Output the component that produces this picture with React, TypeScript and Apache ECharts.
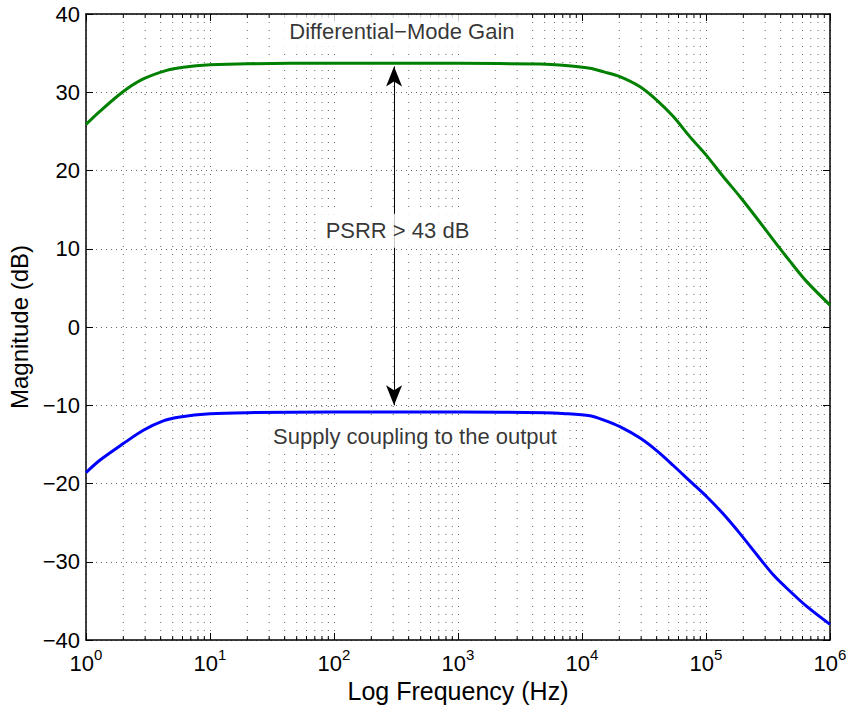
import React, { useEffect, useRef } from "react";
import * as echarts from "echarts";

// ---- data ----
const GAIN_FREQ = [1, 1.3, 2.0, 2.9, 4.47, 6.1, 10, 20, 100, 1000, 4600, 7000, 11600, 15000, 20200, 29400, 40000, 54500, 74300, 100000, 138000, 188000, 257000, 350000, 478000, 649000, 1000000];
const GAIN_DB = [25.9, 27.6, 30.1, 31.7, 32.8, 33.2, 33.5, 33.65, 33.7, 33.7, 33.6, 33.45, 33.06, 32.6, 32.0, 30.7, 29.0, 26.9, 24.3, 22.0, 19.2, 16.65, 13.9, 11.1, 8.35, 5.8, 2.8];

const SUPPLY_FREQ = [1, 1.3, 2.0, 2.9, 4.2, 5.73, 10, 19.8, 100, 1000, 5000, 7000, 11600, 15000, 20200, 29400, 40000, 54500, 74300, 100000, 138000, 188000, 257000, 350000, 478000, 649000, 1000000];
const SUPPLY_DB = [-18.6, -17.0, -14.9, -13.2, -12.0, -11.5, -11.1, -10.95, -10.85, -10.85, -10.95, -11.05, -11.35, -11.9, -12.74, -14.2, -15.8, -17.7, -19.7, -21.6, -23.9, -26.4, -29.1, -31.7, -33.8, -35.7, -38.0];

const DECADES = [1, 10, 100, 1000, 10000, 100000];
const MINOR_MULTS = [2, 3, 4, 5, 6, 7, 8, 9];

const X_MIN = 1;
const X_MAX = 1000000;
const Y_MIN = -40;
const Y_MAX = 40;
const Y_STEP = 10;

const ARROW_FREQ = 305;
const ARROW_TOP_DB = 33.3;
const ARROW_BOTTOM_DB = -10.0;

const LABEL_TEXTS = ["Differential\u2212Mode Gain", "PSRR > 43 dB", "Supply coupling to the output"];
const LABEL_FREQ = [353, 325, 450];
const LABEL_DB = [37.7, 12.3, -14.05];

const X_TITLE = "Log Frequency (Hz)";
const Y_TITLE = "Magnitude (dB)";

const FONT = '"Liberation Sans", Arial, Helvetica, sans-serif';

export default function App() {
  const ref = useRef<HTMLDivElement>(null);

  useEffect(() => {
    if (!ref.current) return;
    const chart = echarts.init(ref.current, null, { renderer: "svg" });

    const minorFreqs: number[][] = [];
    DECADES.forEach((d) => MINOR_MULTS.forEach((m) => minorFreqs.push([d * m, 0])));

    const gainData = GAIN_FREQ.map((f, i) => [f, GAIN_DB[i]]);
    const supplyData = SUPPLY_FREQ.map((f, i) => [f, SUPPLY_DB[i]]);
    const labelData = LABEL_TEXTS.map((t, i) => [LABEL_FREQ[i], LABEL_DB[i], t]);

    const axisLine = { show: true, onZero: false, lineStyle: { color: "#000", width: 1.5 } };
    const axisTick = { show: true, inside: true, length: 7, lineStyle: { color: "#000", width: 1 } };

    const option: any = {
      animation: false,
      backgroundColor: "#fff",
      grid: { left: 86, right: 16, top: 14, bottom: 66, containLabel: false, outerBoundsMode: "none" },
      xAxis: [
        {
          type: "log",
          logBase: 10,
          min: X_MIN,
          max: X_MAX,
          position: "bottom",
          axisLine,
          axisTick,
          axisLabel: {
            margin: 12,
            formatter: (v: number) => `{b|10}{s|${Math.round(Math.log10(v))}}`,
            rich: {
              b: { fontSize: 22, fontFamily: FONT, color: "#000", lineHeight: 22, verticalAlign: "bottom" },
              s: { fontSize: 15, fontFamily: FONT, color: "#000", lineHeight: 15, padding: [0, 0, 12, 0], verticalAlign: "bottom" },
            },
          },
          splitLine: { show: true, lineStyle: { color: "#666", width: 1, type: [1, 7] } },
          name: X_TITLE,
          nameLocation: "middle",
          nameGap: 36,
          nameTextStyle: { fontSize: 25, fontFamily: FONT, color: "#000" },
        },
        {
          type: "log",
          logBase: 10,
          min: X_MIN,
          max: X_MAX,
          position: "top",
          axisLine,
          axisTick,
          axisLabel: { show: false },
          splitLine: { show: false },
        },
      ],
      yAxis: [
        {
          type: "value",
          min: Y_MIN,
          max: Y_MAX,
          interval: Y_STEP,
          position: "left",
          axisLine,
          axisTick,
          axisLabel: {
            margin: 6,
            fontSize: 22,
            fontFamily: FONT,
            color: "#000",
            formatter: (v: number) => (v < 0 ? "\u2212" + Math.abs(v) : String(v)),
          },
          splitLine: { show: true, lineStyle: { color: "#666", width: 1, type: [1, 4] } },
          name: Y_TITLE,
          nameLocation: "middle",
          nameGap: 45,
          nameRotate: 90,
          nameTextStyle: { fontSize: 24, fontFamily: FONT, color: "#000" },
        },
        {
          type: "value",
          min: Y_MIN,
          max: Y_MAX,
          interval: Y_STEP,
          position: "right",
          axisLine,
          axisTick,
          axisLabel: { show: false },
          splitLine: { show: false },
        },
      ],
      series: [
        {
          type: "custom",
          name: "minorGrid",
          silent: true,
          clip: false,
          z: 1,
          xAxisIndex: 0,
          yAxisIndex: 0,
          encode: { x: 0, y: 1 },
          data: minorFreqs,
          renderItem: (params: any, api: any) => {
            const f = api.value(0);
            const top = api.coord([f, Y_MAX]);
            const bot = api.coord([f, Y_MIN]);
            return {
              type: "group",
              children: [
                {
                  type: "line",
                  shape: { x1: top[0], y1: top[1], x2: bot[0], y2: bot[1] },
                  style: { stroke: "#666", lineWidth: 1, lineDash: [1, 7] },
                },
                {
                  type: "line",
                  shape: { x1: bot[0], y1: bot[1], x2: bot[0], y2: bot[1] - 4 },
                  style: { stroke: "#000", lineWidth: 1 },
                },
                {
                  type: "line",
                  shape: { x1: top[0], y1: top[1], x2: top[0], y2: top[1] + 4 },
                  style: { stroke: "#000", lineWidth: 1 },
                },
              ],
            };
          },
        },
        {
          type: "line",
          name: "Differential-Mode Gain",
          data: gainData,
          showSymbol: false,
          smooth: 0.3,
          silent: true,
          z: 3,
          lineStyle: { color: "#008000", width: 3 },
          markLine: {
            silent: true,
            symbol: ["arrow", "arrow"],
            symbolSize: [12, 20],
            label: { show: false },
            lineStyle: { color: "#000", width: 1, type: "solid" },
            data: [[{ coord: [ARROW_FREQ, ARROW_TOP_DB] }, { coord: [ARROW_FREQ, ARROW_BOTTOM_DB] }]],
          },
        },
        {
          type: "line",
          name: "Supply coupling",
          data: supplyData,
          showSymbol: false,
          smooth: 0.3,
          silent: true,
          z: 3,
          lineStyle: { color: "#0000ff", width: 3 },
        },
        {
          type: "scatter",
          name: "labels",
          data: labelData,
          silent: true,
          z: 10,
          symbolSize: 1,
          itemStyle: { color: "rgba(0,0,0,0)" },
          label: {
            show: true,
            position: "inside",
            formatter: (p: any) => p.value[2],
            fontSize: 22,
            fontFamily: FONT,
            color: "#000",
            backgroundColor: "#fff",
            padding: [6, 8],
          },
        },
      ],
    };

    chart.setOption(option);
    return () => chart.dispose();
  }, []);

  return <div ref={ref} style={{ position: "absolute", left: 0, top: 0, width: 846, height: 706 }} />;
}
